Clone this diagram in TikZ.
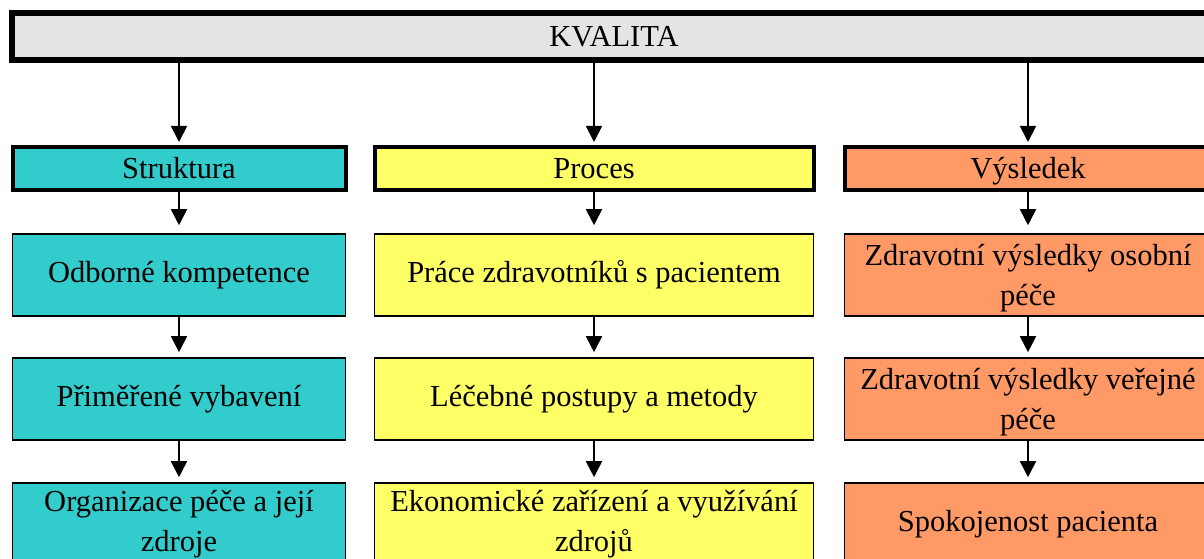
\documentclass[tikz,border=0pt]{standalone}
\usepackage{fontspec}
\setmainfont{Liberation Serif}
\usetikzlibrary{arrows.meta}

\definecolor{qgray}{HTML}{E4E4E4}
\definecolor{qcyan}{HTML}{33CCCC}
\definecolor{qyellow}{HTML}{FFFF66}
\definecolor{qorange}{HTML}{FF9966}

\tikzset{
  base/.style={draw=black, inner sep=0pt, align=center,
    font=\fontsize{30.5}{40}\selectfont},
  topbox/.style={base, fill=qgray, line width=6pt,
    minimum width=1204pt, minimum height=47pt},
  headbox/.style={base, line width=4pt, minimum height=43pt,
    text height=24pt, text depth=4pt},
  itembox/.style={base, line width=1.6pt, minimum height=82pt},
  boxtext/.style={inner sep=0pt, align=center,
    font=\fontsize{30.5}{40}\selectfont},
  colA/.style={fill=qcyan, minimum width=333pt},
  colB/.style={fill=qyellow, minimum width=439pt},
  colC/.style={fill=qorange, minimum width=367pt},
  link/.style={line width=1.8pt, -{Triangle[width=16pt,length=16pt]}},
}

\begin{document}
\begin{tikzpicture}[x=1pt, y=-1pt]
  \useasboundingbox (0,0) rectangle (1204,559);

  % top level
  \node[topbox] (kv) at (614,36.5) {KVALITA};

  % column headers
  \node[headbox, colA] (s0) at (179,168.5) {Struktura};
  \node[headbox, colB] (p0) at (594,168.5) {Proces};
  \node[headbox, colC] (v0) at (1028,168.5) {Výsledek};

  % structure column
  \node[itembox, colA] (s1) at (179,275) {Odborné kompetence};
  \node[itembox, colA] (s2) at (179,399) {Přiměřené vybavení};
  \node[itembox, colA] (s3) at (179,524) {Organizace péče a její\\zdroje};

  % process column
  \node[itembox, colB] (p1) at (594,275) {Práce zdravotníků s pacientem};
  \node[itembox, colB] (p2) at (594,399) {Léčebné postupy a metody};
  \node[itembox, colB] (p3) at (594,524) {Ekonomické zařízení a využívání\\zdrojů};

  % outcome column (two-line texts sit slightly lower in their boxes)
  \node[itembox, colC] (v1) at (1028,275) {};
  \node[boxtext] (v1text) at ([yshift=-3pt]v1.center) {Zdravotní výsledky osobní\\péče};
  \node[itembox, colC] (v2) at (1028,399) {};
  \node[boxtext] (v2text) at ([yshift=-3pt]v2.center) {Zdravotní výsledky veřejné\\péče};
  \node[itembox, colC] (v3) at (1028,524) {Spokojenost pacienta};

  % arrows from the top box
  \draw[link, shorten >=3pt] (kv.south -| s0) -- (s0.north);
  \draw[link, shorten >=3pt] (kv.south -| p0) -- (p0.north);
  \draw[link, shorten >=3pt] (kv.south -| v0) -- (v0.north);

  % arrows inside the columns
  \foreach \c in {s,p,v}{
    \draw[link, shorten >=8pt] (\c0.south) -- (\c1.north);
    \draw[link, shorten >=5pt] (\c1.south) -- (\c2.north);
    \draw[link, shorten >=5pt] (\c2.south) -- (\c3.north);
  }
\end{tikzpicture}
\end{document}
